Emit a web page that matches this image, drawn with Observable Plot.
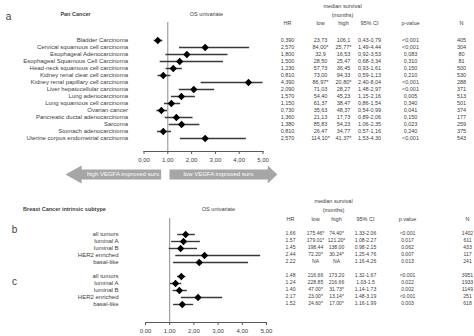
<!DOCTYPE html>
<html><head><meta charset="utf-8">
<script src="https://cdn.jsdelivr.net/npm/d3@7"></script>
<script src="https://cdn.jsdelivr.net/npm/@observablehq/plot@0.6"></script>
<style>
body{margin:0;background:#fff;}
#wrap{position:relative;width:474px;height:336px;overflow:hidden;}
#wrap svg{position:absolute;left:0;top:0;}
</style></head><body><div id="wrap"></div>
<script>
// ---------- Panel a : Pan Cancer ----------
const cancers = ["Bladder Carcinoma","Cervical squamous cell carcinoma","Esophageal Adenocarcinoma","Esophageal Squamous Cell Carcinoma","Head-neck squamous cell carcinoma","Kidney renal clear cell carcinoma","Kidney renal papillary cell carcinoma","Liver hepatocellular carcinoma","Lung adenocarcinoma","Lung squamous cell carcinoma","Ovarian cancer","Pancreatic ductal adenocarcinoma","Sarcoma","Stomach adenocarcinoma","Uterine corpus endometrial carcinoma"];
const hrPointA = [0.58,2.57,1.80,1.50,1.23,0.81,4.39,2.09,1.57,1.15,0.73,1.36,1.58,0.81,2.57];
const ciLowA  = [0.43,1.49,0.92,0.68,0.93,0.59,2.40,1.48,1.15,0.86,0.54,0.89,1.06,0.57,1.53];
const ciHighA = [0.79,4.44,3.53,3.34,1.61,1.13,8.04,2.97,2.16,1.54,0.99,2.06,2.35,1.16,4.30];
const hrTextA = ["0,390","2,570","1,800","1,500","1,230","0,810","4,390","2,090","1,570","1,150","0,730","1,360","1,380","0,810","2,570"];
const lowTextA = ["23,73","84,00*","32,9","28,50","57,73","73,00","86,97*","71,03","54,40","61,37","35,63","21,13","85,83","26,47","114,10*"];
const highTextA = ["106,1","25,77*","16,53","25,47","36,45","94,33","20,80*","28,27","45,23","38,47","48,37","17,73","54,23","34,77","41,37*"];
const ciTextA = ["0,43-0,79","1,49-4,44","0,92-3,53","0,68-3,34","0,93-1,61","0,59-1,13","2,40-8,04","1,48-2,97","1,15-2,16","0,86-1,54","0,54-0,99","0,89-2,06","1,06-2,35","0,57-1,16","1,53-4,30"];
const pTextA = ["<0,001","<0,001","0,083","0,310","0,150","0,210","<0,001","<0,001","0,005","0,340","0,041","0,150","0,023","0,240","<0,001"];
const nA = [405,304,80,81,500,530,288,371,513,501,374,177,259,375,543];

// ---------- Panels b / c : Breast cancer intrinsic subtypes ----------
const subtypes = ["all tumors","luminal A","luminal B","HER2 enriched","basal-like"];
const hrB = [1.66,1.57,1.45,2.44,2.22];
const ciLowB = [1.33,1.08,0.98,1.25,1.16];
const ciHighB = [2.06,2.27,2.15,4.76,4.26];
const hrTextB = ["1.66","1.57","1.45","2.44","2.22"];
const lowTextB = ["175.46*","179.01*","198.44","72.20*","NA"];
const highTextB = ["74.40*","121.20*","138.00","30.24*","NA"];
const ciTextB = ["1.33-2.06","1.08-2.27","0.98-2.15","1.25-4.76","1.16-4.26"];
const pTextB = ["<0.001","0.017","0.062","0.007","0.013"];
const nB = [1402,611,433,117,241];

const hrC = [1.48,1.24,1.40,2.17,1.52];
const ciLowC = [1.32,1.03,1.14,1.48,1.16];
const ciHighC = [1.67,1.50,1.73,3.19,1.99];
const hrTextC = ["1.48","1.24","1.40","2.17","1.52"];
const lowTextC = ["216.66","228.85","47.00*","23.00*","24.60*"];
const highTextC = ["173.20","216.66","31.73*","13.14*","17.00*"];
const ciTextC = ["1.32-1.67","1.03-1.5","1.14-1.73","1.48-3.19","1.16-1.99"];
const pTextC = ["<0.001","0.022","0.002","<0.001","0.003"];
const nC = [3951,1933,1149,251,618];

const axisTicks = [0,1,2,3,4,5];
const colHeadA = ["HR","low","high","95% CI","p-value","N"];
const colHeadB = ["HR","low","high","95% CI","p value","N"];
const arrowLabels = ["high VEGFA improved surv.","low VEGFA improved surv."];

// ---------- build ----------
const FONT = "'Liberation Sans', Arial, sans-serif";
const TXT = "#404040";
const fmtComma = d => d.toFixed(2).replace(".", ",");

const rowsA = cancers.map((name,i)=>({key:name, hr:hrPointA[i], lo:ciLowA[i], hi:ciHighA[i],
  c0:hrTextA[i], c1:lowTextA[i], c2:highTextA[i], c3:ciTextA[i], c4:pTextA[i], c5:String(nA[i])}));
const mk = (g, hr, lo, hi, t0,t1,t2,t3,t4,n) => subtypes.map((s,i)=>({key:g+":"+s, label:s, hr:hr[i], lo:lo[i], hi:hi[i],
  c0:t0[i], c1:t1[i], c2:t2[i], c3:t3[i], c4:t4[i], c5:String(n[i])}));
const rowsB = mk("b", hrB, ciLowB, ciHighB, hrTextB, lowTextB, highTextB, ciTextB, pTextB, nB);
const rowsC = mk("c", hrC, ciLowC, ciHighC, hrTextC, lowTextC, highTextC, ciTextC, pTextC, nC);
const rowsBC = rowsB.concat(rowsC);
const keysBC = rowsB.map(d=>d.key).concat(["gap"], rowsC.map(d=>d.key));
const labelOf = new Map(rowsBC.map(d=>[d.key,d.label]));

function tableCols(rows, colPos, left, dy, size) {
  return ["c0","c1","c2","c3","c4","c5"].map((c,j)=>Plot.text(rows, {y:"key", text:c, frameAnchor:"left",
    dx: colPos[j]-left, dy, textAnchor:"middle", fill:TXT, fontSize:size}));
}
function label(str, x, y, left, top, o={}) {
  return Plot.text([str], {frameAnchor:"top-left", dx:x-left, dy:y-top, textAnchor:"middle", fill:TXT, fontSize:6, ...o});
}

const wrap = document.getElementById("wrap");

// Panel a
const LA = 143.5, TA = 22;
const colA = [287,320,343,369,410,461];
const plotA = Plot.plot({
  width:474, height:336, marginTop:TA, marginBottom:185, marginLeft:LA, marginRight:474-262.5,
  style:{fontFamily:FONT, fontSize:"6px", background:"transparent", overflow:"visible"},
  x:{domain:[0,5]},
  y:{type:"point", domain:cancers, range:[30,147.6]},
  marks:[
    Plot.ruleX([1], {stroke:"#8c8c8c", strokeWidth:1}),
    Plot.frame({anchor:"bottom", stroke:"#595959"}),
    Plot.axisX({ticks:axisTicks, tickSize:3, tickPadding:3, tickFormat:fmtComma, stroke:"#595959", fill:TXT, label:null}),
    Plot.axisY({tickSize:0, tickPadding:16, label:null, fill:TXT}),
    Plot.ruleY(rowsA, {y:"key", x1:"lo", x2:"hi", stroke:"#3a3a3a", strokeWidth:1.4, clip:true}),
    Plot.dot(rowsA, {x:"hr", y:"key", symbol:"diamond2", r:3.3, fill:"#000", stroke:"none"}),
    ...tableCols(rowsA, colA, LA, 0, 5.5),
    ...colHeadA.map((h,j)=>label(h, colA[j], 21, LA, TA, {fontSize:5.5})),
    label("median survival", 342, 4, LA, TA, {fontSize:5.5}),
    label("(months)", 342, 12.5, LA, TA, {fontSize:5.5}),
    label("a", 8, 12, LA, TA, {fontSize:10}),
    label("Pan Cancer", 75, 12, LA, TA, {fontSize:5.5, fontWeight:"bold"}),
    label("OS univariate", 206, 12, LA, TA, {fontSize:5.5})
  ]
});
wrap.appendChild(plotA);

// Arrows
const arrowShapes = [
  {z:"high", pts:[[0.72,-0.55],[-2.62,-0.55],[-2.62,-1],[-3.3,0],[-2.62,1],[-2.62,0.55],[0.72,0.55]]},
  {z:"low", pts:[[1.07,-0.55],[5.2,-0.55],[5.2,-1],[5.6,0],[5.2,1],[5.2,0.55],[1.07,0.55]]}
];
const arrowPts = arrowShapes.flatMap(a=>a.pts.map(([x,y])=>({z:a.z,x,y})));
const plotArrow = Plot.plot({
  width:474, height:336, marginTop:165, marginBottom:336-183, marginLeft:LA, marginRight:474-262.5,
  style:{fontFamily:FONT, background:"transparent", overflow:"visible"},
  x:{domain:[0,5], axis:null}, y:{domain:[-1,1], axis:null},
  marks:[
    Plot.line(arrowPts, {x:"x", y:"y", z:"z", fill:"#a6a6a6", stroke:"none", curve:"linear"}),
    Plot.text(arrowLabels, {x:[-0.86, 3.15], y:[0,0], text:d=>d, fill:"#fff", fontSize:6})
  ]
});
wrap.appendChild(plotArrow);

// Panels b / c
const LB = 145, TB = 218;
const colB = [290,315,336,365,407,467];
const plotBC = Plot.plot({
  width:474, height:336, marginTop:TB, marginBottom:14, marginLeft:LB, marginRight:474-266,
  style:{fontFamily:FONT, fontSize:"6px", background:"transparent", overflow:"visible"},
  x:{domain:[0,5]},
  y:{type:"point", domain:keysBC, range:[226,312]},
  marks:[
    Plot.ruleX([1], {stroke:"#8c8c8c", strokeWidth:1}),
    Plot.frame({anchor:"bottom", stroke:"#595959"}),
    Plot.axisX({ticks:axisTicks, tickSize:3, tickPadding:3, tickFormat:fmtComma, stroke:"#595959", fill:TXT, label:null}),
    Plot.axisY({ticks:keysBC.filter(k=>k!=="gap"), tickFormat:k=>labelOf.get(k), tickSize:0, tickPadding:27, label:null, fill:TXT}),
    Plot.ruleY(rowsBC, {y:"key", x1:"lo", x2:"hi", stroke:"#3a3a3a", strokeWidth:1.4, clip:true}),
    Plot.dot(rowsBC, {x:"hr", y:"key", symbol:"diamond2", r:3.3, fill:"#000", stroke:"none"}),
    ...tableCols(rowsBC, colB, LB, -1.5, 5.1),
    ...colHeadB.map((h,j)=>label(h, colB[j], 217, LB, TB, {fontSize:5.5})),
    label("median survival", 333, 199, LB, TB, {fontSize:5.5}),
    label("(months)", 333, 207.5, LB, TB, {fontSize:5.5}),
    label("b", 14, 225, LB, TB, {fontSize:10}),
    label("c", 14, 277, LB, TB, {fontSize:10}),
    label("Breast Cancer intrinsic subtype", 64, 207, LB, TB, {fontSize:5.5, fontWeight:"bold"}),
    label("OS univariate", 218, 207, LB, TB, {fontSize:5.5})
  ]
});
wrap.appendChild(plotBC);
</script></body></html>
